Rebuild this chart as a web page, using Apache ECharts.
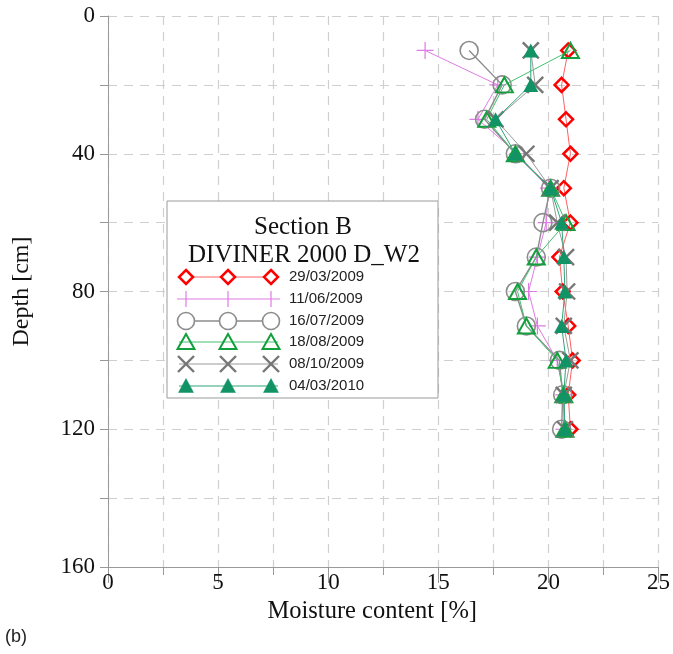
<!DOCTYPE html>
<html>
<head>
<meta charset="utf-8">
<script src="https://cdn.jsdelivr.net/npm/echarts@6/dist/echarts.min.js"></script>
<style>
html,body{margin:0;padding:0;background:#fff;}
#chart{width:673px;height:654px;}
</style>
</head>
<body>
<div id="chart"></div>
<script>
var depths = [10, 20, 30, 40, 50, 60, 70, 80, 90, 100, 110, 120];
var seriesNames = ['29/03/2009', '11/06/2009', '16/07/2009', '18/08/2009', '08/10/2009', '04/03/2010'];
var s20090329 = [20.9, 20.6, 20.8, 21.0, 20.7, 21.0, 20.5, 20.65, 20.9, 21.1, 20.9, 21.0];
var s20090611 = [14.4, 17.7, 16.8, 18.6, 20.0, 19.9, 19.5, 19.1, 19.5, 20.4, 20.7, 20.7];
var s20090716 = [16.4, 17.9, 17.1, 18.5, 20.1, 19.75, 19.45, 18.5, 19.0, 20.5, 20.65, 20.6];
var s20090818 = [21.0, 18.0, 17.2, 18.5, 20.1, 20.8, 19.45, 18.6, 19.0, 20.4, 20.7, 20.75];
var s20091008 = [19.2, 19.4, 17.6, 19.0, 20.1, 20.4, 20.8, 20.85, 20.7, 21.0, 20.7, 20.75];
var s20100304 = [19.2, 19.2, 17.6, 18.5, 20.1, 20.6, 20.7, 20.75, 20.6, 20.8, 20.7, 20.75];
var xTicks = [0, 5, 10, 15, 20, 25];
var yTicks = [0, 40, 80, 120, 160];
var legendTitle = ['Section B', 'DIVINER 2000 D_W2'];

var allValues = [s20090329, s20090611, s20090716, s20090818, s20091008, s20100304];

var PLUS = 'path://M0,5L10,5M5,0L5,10';
var CROSS = 'path://M0,0L10,10M10,0L0,10';

var styles = [
  {symbol: 'diamond', size: 14, item: {color: 'rgba(255,255,255,0)', borderColor: '#ff0000', borderWidth: 2.5}, line: {color: '#ff6060', width: 1}},
  {symbol: PLUS, size: 17, item: {color: 'rgba(255,255,255,0)', borderColor: '#e07ae6', borderWidth: 1.2}, line: {color: '#e07ae6', width: 1}},
  {symbol: 'circle', size: 18, item: {color: 'rgba(255,255,255,0)', borderColor: '#8c8c8c', borderWidth: 1.6}, line: {color: '#8c8c8c', width: 1.4}},
  {symbol: 'triangle', size: [17, 15], item: {color: 'rgba(255,255,255,0)', borderColor: '#12a03c', borderWidth: 2}, line: {color: '#44c070', width: 1}},
  {symbol: CROSS, size: 16, item: {color: 'rgba(255,255,255,0)', borderColor: '#777777', borderWidth: 2.4}, line: {color: '#9a9a9a', width: 1}},
  {symbol: 'triangle', size: [15, 14], item: {color: '#129366', borderColor: '#129366', borderWidth: 0}, line: {color: '#2fa57a', width: 1}}
];

var series = seriesNames.map(function (name, i) {
  var st = styles[i];
  return {
    name: name,
    type: 'line',
    data: depths.map(function (d, k) { return [allValues[i][k], d]; }),
    symbol: st.symbol,
    symbolSize: st.size,
    showAllSymbol: true,
    itemStyle: st.item,
    lineStyle: st.line,
    z: 2 + i,
    animation: false
  };
});

// Legend drawn as graphic (three markers per row, like the source)
var lg = {left: 167, top: 201, width: 271, height: 197};
var rowY = [277, 299, 321, 342, 364, 386];
var mx = [186, 228, 271];
var graphics = [];
graphics.push({type: 'rect', shape: {x: lg.left, y: lg.top, width: lg.width, height: lg.height},
  style: {fill: '#fff', stroke: '#9a9a9a', lineWidth: 1}, z: 100});
graphics.push({type: 'text', x: 303, y: 227, style: {text: legendTitle[0], font: '25px "Liberation Serif"', fill: '#111', align: 'center', verticalAlign: 'middle'}, z: 101});
graphics.push({type: 'text', x: 304, y: 255, style: {text: legendTitle[1], font: '25px "Liberation Serif"', fill: '#111', align: 'center', verticalAlign: 'middle'}, z: 101});

function markerGraphic(i, cx, cy) {
  var st = styles[i];
  var col = st.item.borderColor;
  if (i === 0) {
    var r = 7;
    return {type: 'polygon', shape: {points: [[cx, cy - r], [cx + r, cy], [cx, cy + r], [cx - r, cy]]},
      style: {fill: '#fff', stroke: col, lineWidth: 2.5}, z: 102};
  } else if (i === 1) {
    return {type: 'group', z: 102, children: [
      {type: 'line', shape: {x1: cx, y1: cy - 8, x2: cx, y2: cy + 8}, style: {stroke: col, lineWidth: 1.2}, z: 102}
    ]};
  } else if (i === 2) {
    return {type: 'circle', shape: {cx: cx, cy: cy, r: 8.5}, style: {fill: '#fff', stroke: col, lineWidth: 1.6}, z: 102};
  } else if (i === 3) {
    return {type: 'polygon', shape: {points: [[cx, cy - 8], [cx + 8.5, cy + 7], [cx - 8.5, cy + 7]]},
      style: {fill: 'rgba(255,255,255,0)', stroke: col, lineWidth: 2}, z: 102};
  } else if (i === 4) {
    return {type: 'group', z: 102, children: [
      {type: 'line', shape: {x1: cx - 8, y1: cy - 8, x2: cx + 8, y2: cy + 8}, style: {stroke: col, lineWidth: 2.4}, z: 102},
      {type: 'line', shape: {x1: cx + 8, y1: cy - 8, x2: cx - 8, y2: cy + 8}, style: {stroke: col, lineWidth: 2.4}, z: 102}
    ]};
  } else {
    return {type: 'polygon', shape: {points: [[cx, cy - 7.5], [cx + 7.5, cy + 6.5], [cx - 7.5, cy + 6.5]]},
      style: {fill: st.item.color, stroke: st.item.color, lineWidth: 0.5}, z: 102};
  }
}

seriesNames.forEach(function (name, i) {
  var y = rowY[i];
  var x1 = (i === 1) ? 177 : 179;
  var x2 = (i === 1) ? 280 : 278;
  graphics.push({type: 'line', shape: {x1: x1, y1: y, x2: x2, y2: y}, style: {stroke: styles[i].line.color, lineWidth: styles[i].line.width}, z: 101});
  mx.forEach(function (cx) { graphics.push(markerGraphic(i, cx, y)); });
  graphics.push({type: 'text', x: 289, y: y, style: {text: name, font: '15px "Liberation Sans"', fill: '#222', align: 'left', verticalAlign: 'middle'}, z: 101});
});
graphics.push({type: 'text', x: 5, y: 637, style: {text: '(b)', font: '18px "Liberation Sans"', fill: '#222', align: 'left', verticalAlign: 'middle'}});

var chart = echarts.init(document.getElementById('chart'), null, {renderer: 'canvas'});
chart.setOption({
  backgroundColor: '#fff',
  animation: false,
  grid: {left: 108, top: 16, width: 553, height: 551, containLabel: false},
  xAxis: {
    type: 'value', min: xTicks[0], max: xTicks[xTicks.length - 1], interval: 5,
    position: 'bottom',
    name: 'Moisture content [%]', nameLocation: 'middle', nameGap: 27,
    nameTextStyle: {fontFamily: 'Liberation Serif', fontSize: 24.5, color: '#111', verticalAlign: 'top', padding: [0, 22, 0, 0]},
    axisLine: {show: true, onZero: false, lineStyle: {color: '#999', width: 1}},
    axisTick: {show: true, inside: false, length: 16, lineStyle: {color: '#999'}},
    minorTick: {show: true, splitNumber: 2, length: 8, lineStyle: {color: '#999'}},
    axisLabel: {fontFamily: 'Liberation Serif', fontSize: 23, color: '#111', margin: 4,
      formatter: function (v) { return xTicks.indexOf(v) >= 0 ? String(v) : ''; }},
    splitLine: {show: true, lineStyle: {color: '#cfcfcf', type: [9, 7], width: 1.2}},
    minorSplitLine: {show: true, lineStyle: {color: '#cfcfcf', type: [9, 7], width: 1.2}}
  },
  yAxis: {
    type: 'value', inverse: true, min: 0, max: 160, interval: 20,
    name: 'Depth [cm]', nameLocation: 'middle', nameGap: 74,
    nameTextStyle: {fontFamily: 'Liberation Serif', fontSize: 24, color: '#111'},
    axisLine: {show: true, onZero: false, lineStyle: {color: '#999', width: 1}},
    axisTick: {show: true, inside: false, length: 8, lineStyle: {color: '#999'}},
    axisLabel: {fontFamily: 'Liberation Serif', fontSize: 23, color: '#111', margin: 13,
      formatter: function (v) { return yTicks.indexOf(v) >= 0 ? String(v) : ''; }},
    splitLine: {show: true, lineStyle: {color: '#cfcfcf', type: [9, 7], width: 1.2}}
  },
  series: series,
  graphic: graphics
});
</script>
</body>
</html>
